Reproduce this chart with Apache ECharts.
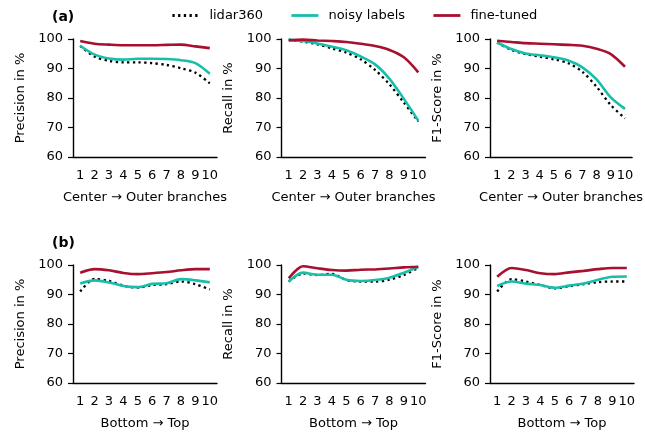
<!DOCTYPE html>
<html>
<head>
<meta charset="utf-8">
<script src="https://cdn.jsdelivr.net/npm/echarts@6/dist/echarts.min.js"></script>
<style>
  html, body { margin: 0; padding: 0; background: #fff; }
  #chart { width: 645px; height: 436px; }
</style>
</head>
<body>
<div id="chart"></div>
<script>
// positions along the path (x axis)
const categories = ['1', '2', '3', '4', '5', '6', '7', '8', '9', '10']

// (a) center -> outer branches
const precLidarA = [97.7, 94.0, 92.6, 92.1, 92.1, 91.8, 91.2, 90.1, 88.6, 85.0]
const precNoisyA = [97.7, 94.7, 93.4, 93.0, 93.3, 93.3, 93.2, 92.8, 91.8, 88.2]
const precFineA = [99.3, 98.4, 98.1, 97.9, 97.9, 97.9, 98.0, 98.1, 97.5, 96.9]

const recLidarA = [99.8, 99.1, 98.2, 96.8, 95.4, 93.1, 89.5, 84.6, 78.4, 72.0]
const recNoisyA = [99.8, 99.3, 98.5, 97.4, 96.2, 94.1, 91.4, 86.5, 79.7, 72.3]
const recFineA = [99.5, 99.8, 99.5, 99.3, 99.0, 98.4, 97.6, 96.3, 93.8, 88.7]

const f1LidarA = [98.8, 96.3, 94.9, 94.0, 93.1, 91.8, 88.9, 83.8, 77.6, 73.1]
const f1NoisyA = [98.8, 96.6, 95.1, 94.5, 93.8, 92.7, 90.4, 86.3, 80.2, 76.3]
const f1FineA = [99.4, 99.0, 98.6, 98.4, 98.2, 98.0, 97.7, 96.7, 94.9, 90.6]

// (b) bottom -> top
const precLidarB = [91.0, 95.3, 94.6, 93.0, 92.3, 93.2, 93.5, 94.4, 93.5, 91.7]
const precNoisyB = [93.7, 94.8, 94.1, 92.9, 92.5, 93.6, 93.8, 95.2, 94.8, 94.1]
const precFineB = [97.4, 98.6, 98.2, 97.3, 96.9, 97.2, 97.6, 98.2, 98.6, 98.6]

const recLidarB = [94.4, 97.1, 96.6, 97.0, 94.9, 94.4, 94.4, 95.0, 96.6, 99.0]
const recNoisyB = [94.4, 97.4, 96.7, 96.7, 95.0, 94.6, 94.9, 95.7, 97.4, 99.3]
const recFineB = [95.5, 99.6, 98.9, 98.3, 98.1, 98.4, 98.5, 98.8, 99.2, 99.4]

const f1LidarB = [91.0, 95.2, 94.4, 93.2, 92.1, 92.8, 93.5, 94.2, 94.4, 94.4]
const f1NoisyB = [92.9, 94.4, 93.7, 93.2, 92.3, 93.0, 93.7, 95.0, 96.0, 96.1]
const f1FineB = [96.0, 99.0, 98.3, 97.2, 96.9, 97.5, 98.0, 98.6, 99.0, 99.0]

const seriesNames = ['lidar360', 'noisy labels', 'fine-tuned']
const yTitles = ['Precision in %', 'Recall in %', 'F1-Score in %']
const xTitles = ['Center \u2192 Outer branches', 'Bottom \u2192 Top']

const panels = [
  [precLidarA, precNoisyA, precFineA],
  [recLidarA, recNoisyA, recFineA],
  [f1LidarA, f1NoisyA, f1FineA],
  [precLidarB, precNoisyB, precFineB],
  [recLidarB, recNoisyB, recFineB],
  [f1LidarB, f1NoisyB, f1FineB]
]

const FONT = 'DejaVu Sans'
const lefts = [73, 281.5, 490]
const tops = [39, 265]
const lineStyles = [
  { color: '#000000', width: 2.3, type: [2.3, 3.4] },
  { color: '#17bfaa', width: 2.6, type: 'solid' },
  { color: '#a8102f', width: 2.6, type: 'solid' }
]

const grids = []
const xAxes = []
const yAxes = []
const series = []

panels.forEach((p, i) => {
  const row = Math.floor(i / 3)
  const col = i % 3
  grids.push({ left: lefts[col], top: tops[row], width: 144, height: 118 })
  xAxes.push({
    type: 'category',
    gridIndex: i,
    data: categories,
    boundaryGap: true,
    name: xTitles[row],
    nameLocation: 'middle',
    nameGap: 34,
    nameTextStyle: { fontFamily: FONT, fontSize: 13, color: '#000' },
    axisLine: { lineStyle: { color: '#000', width: 1.4 } },
    axisTick: { alignWithLabel: true, length: 5, lineStyle: { color: '#000', width: 1.2 } },
    axisLabel: { interval: 0, margin: 12, fontFamily: FONT, fontSize: 13, color: '#000' },
    splitLine: { show: false }
  })
  yAxes.push({
    type: 'value',
    gridIndex: i,
    min: 60,
    max: 100,
    interval: 10,
    name: yTitles[col],
    nameLocation: 'middle',
    nameGap: 46,
    nameTextStyle: { fontFamily: FONT, fontSize: 13, color: '#000' },
    axisLine: { show: true, lineStyle: { color: '#000', width: 1.4 } },
    axisTick: { show: true, length: 5, lineStyle: { color: '#000', width: 1.2 } },
    axisLabel: { margin: 10, fontFamily: FONT, fontSize: 13, color: '#000' },
    splitLine: { show: false }
  })
  p.forEach((vals, k) => {
    series.push({
      name: seriesNames[k],
      type: 'line',
      xAxisIndex: i,
      yAxisIndex: i,
      data: vals,
      smooth: 0.3,
      symbol: 'none',
      lineStyle: lineStyles[k],
      itemStyle: { color: lineStyles[k].color },
      z: 2 + k
    })
  })
})

const chart = echarts.init(document.getElementById('chart'))
chart.setOption({
  animation: false,
  backgroundColor: '#fff',
  title: [
    { text: '(a)', left: 47, top: 5, textStyle: { fontFamily: FONT, fontSize: 14, fontWeight: 'bold', color: '#000' } },
    { text: '(b)', left: 47, top: 231, textStyle: { fontFamily: FONT, fontSize: 14, fontWeight: 'bold', color: '#000' } }
  ],
  legend: {
    data: seriesNames,
    left: 166,
    top: 4,
    itemWidth: 27,
    itemHeight: 12,
    itemGap: 27,
    itemStyle: { opacity: 0 },
    lineStyle: { width: 2.8 },
    textStyle: { fontFamily: FONT, fontSize: 13, color: '#000', padding: [0, 0, 0, 5] }
  },
  grid: grids,
  xAxis: xAxes,
  yAxis: yAxes,
  series: series
})
</script>
</body>
</html>
